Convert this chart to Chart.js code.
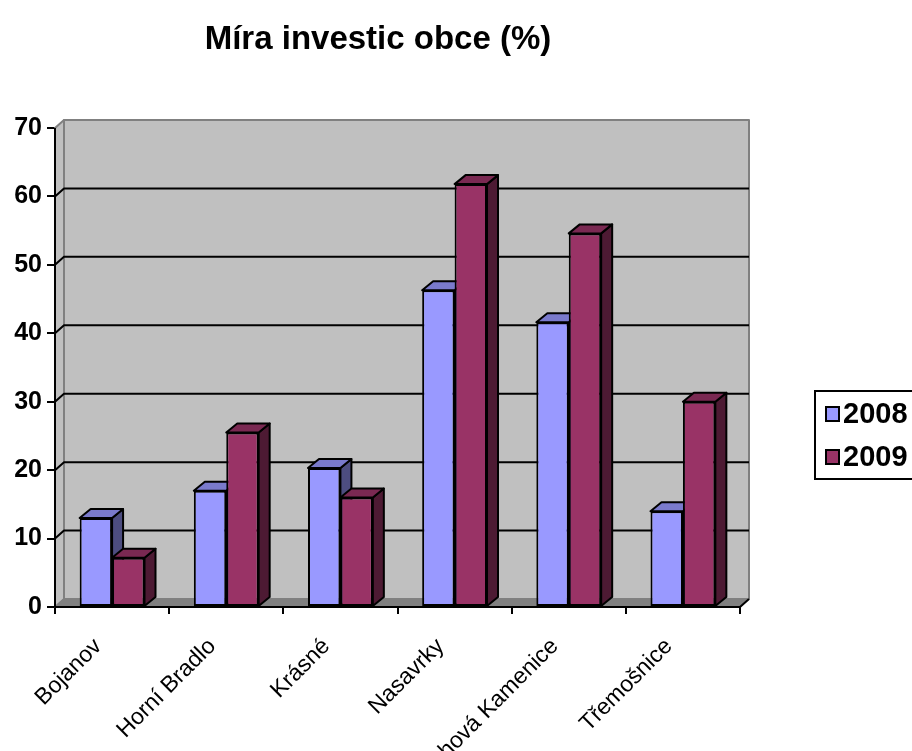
<!DOCTYPE html>
<html>
<head>
<meta charset="utf-8">
<script src="https://cdn.jsdelivr.net/npm/chart.js@4.4.1/dist/chart.umd.min.js"></script>
<style>
  html, body { margin: 0; padding: 0; background: #fff; }
</style>
</head>
<body>
<canvas id="chart" width="912" height="751"></canvas>
<script>
// Data
const categories = ["Bojanov", "Horní Bradlo", "Krásné", "Nasavrky", "Trhová Kamenice", "Třemošnice"];
const values2008 = [13, 17, 20.3, 46.3, 41.6, 14];
const values2009 = [7.2, 25.5, 16, 61.8, 54.6, 30];
const yTicks = [0, 10, 20, 30, 40, 50, 60, 70];
const seriesNames = ["2008", "2009"];
const titleText = "Míra investic obce (%)";

// Barvy (čelo, vršek, bok)
const frontColors = ["#9999FF", "#993366"];
const topColors = ["#7A7ACC", "#7A2952"];
const sideColors = ["#4D4D80", "#4D1A33"];

const FONT = "'Liberation Sans', Arial, sans-serif";
const WALL_DX = 9, WALL_DY = 8; // hloubka stěn
const BAR_DX = 11, BAR_DY = 9; // hloubka sloupců

function poly(ctx, pts, fill, stroke, lw) {
  ctx.beginPath();
  ctx.moveTo(pts[0][0], pts[0][1]);
  for (let i = 1; i < pts.length; i++) ctx.lineTo(pts[i][0], pts[i][1]);
  ctx.closePath();
  if (fill) { ctx.fillStyle = fill; ctx.fill(); }
  if (stroke) { ctx.strokeStyle = stroke; ctx.lineWidth = lw; ctx.stroke(); }
}

// 3D stěny, mřížka a boky sloupců
const plot3d = {
  id: "plot3d",
  beforeDatasetsDraw(chart) {
    const { ctx, chartArea: a, scales: { y } } = chart;
    ctx.save();
    ctx.lineJoin = "round";
    // zadní stěna
    poly(ctx, [[a.left + WALL_DX, a.top - WALL_DY], [a.right + WALL_DX, a.top - WALL_DY],
      [a.right + WALL_DX, a.bottom - WALL_DY], [a.left + WALL_DX, a.bottom - WALL_DY]], "#C0C0C0", "#808080", 2);
    // boční stěna
    poly(ctx, [[a.left, a.top], [a.left + WALL_DX, a.top - WALL_DY],
      [a.left + WALL_DX, a.bottom - WALL_DY], [a.left, a.bottom]], "#C0C0C0", "#808080", 2);
    // mřížka
    const yMax = yTicks[yTicks.length - 1];
    yTicks.forEach((v) => {
      if (v === 0 || v === yMax) return;
      const py = y.getPixelForValue(v);
      ctx.beginPath();
      ctx.moveTo(a.left, py);
      ctx.lineTo(a.left + WALL_DX, py - WALL_DY);
      ctx.lineTo(a.right + WALL_DX, py - WALL_DY);
      ctx.strokeStyle = "#000";
      ctx.lineWidth = 2;
      ctx.stroke();
    });
    // podlaha
    poly(ctx, [[a.left, a.bottom], [a.left + WALL_DX, a.bottom - WALL_DY],
      [a.right + WALL_DX, a.bottom - WALL_DY], [a.right, a.bottom]], "#808080", "#808080", 1);
    // osy
    ctx.beginPath();
    ctx.moveTo(a.left, a.top);
    ctx.lineTo(a.left, a.bottom);
    ctx.lineTo(a.right, a.bottom);
    ctx.lineTo(a.right + WALL_DX, a.bottom - WALL_DY);
    ctx.strokeStyle = "#000";
    ctx.lineWidth = 2;
    ctx.stroke();
    // boky a vršky sloupců
    chart.data.datasets.forEach((ds, i) => {
      const meta = chart.getDatasetMeta(i);
      meta.data.forEach((bar) => {
        const p = bar.getProps(["x", "y", "base", "width"], true);
        const l = p.x - p.width / 2, r = p.x + p.width / 2;
        poly(ctx, [[r, p.y], [r + BAR_DX, p.y - BAR_DY], [r + BAR_DX, p.base - BAR_DY], [r, p.base]], sideColors[i], "#000", 2);
        poly(ctx, [[l, p.y], [l + BAR_DX, p.y - BAR_DY], [r + BAR_DX, p.y - BAR_DY], [r, p.y]], topColors[i], "#000", 2);
      });
    });
    ctx.restore();
  },
  afterDraw(chart) {
    const ctx = chart.ctx;
    ctx.save();
    // nadpis
    ctx.fillStyle = "#000";
    ctx.font = "bold 33px " + FONT;
    ctx.textAlign = "center";
    ctx.textBaseline = "alphabetic";
    ctx.fillText(titleText, 378, 49);
    // legenda
    ctx.lineWidth = 2;
    ctx.strokeStyle = "#000";
    ctx.strokeRect(815, 391, 130, 88);
    ctx.font = "bold 29px " + FONT;
    ctx.textAlign = "left";
    ctx.textBaseline = "middle";
    const rows = [414, 457];
    seriesNames.forEach((name, i) => {
      ctx.fillStyle = frontColors[i];
      ctx.fillRect(826, rows[i] - 7, 13, 14);
      ctx.strokeRect(826, rows[i] - 7, 13, 14);
      ctx.fillStyle = "#000";
      ctx.fillText(name, 843, rows[i] + 1);
    });
    ctx.restore();
  },
};

const ctx = document.getElementById("chart").getContext("2d");
const chart = new Chart(ctx, {
  type: "bar",
  data: {
    labels: categories,
    datasets: seriesNames.map((name, i) => ({
      label: name,
      data: i === 0 ? values2008 : values2009,
      backgroundColor: frontColors[i],
      borderColor: "#000",
      borderWidth: 2,
      borderSkipped: false,
      categoryPercentage: 0.568,
      barPercentage: 1,
    })),
  },
  options: {
    responsive: false,
    animation: false,
    layout: { padding: { top: 128, right: 172, bottom: 0, left: 0 } },
    plugins: {
      legend: { display: false },
      title: { display: false },
      tooltip: { enabled: false },
    },
    scales: {
      x: {
        grid: { offset: true, drawOnChartArea: false, tickLength: 7, color: "#000", lineWidth: 2 },
        border: { display: false },
        ticks: { color: "#000", font: { family: FONT, size: 23 }, minRotation: 45, maxRotation: 45, padding: 19, labelOffset: -14 },
        afterFit(s) { s.height = 144; },
      },
      y: {
        min: 0,
        max: 70,
        grid: { drawOnChartArea: false, tickLength: 8, color: "#000", lineWidth: 2 },
        border: { display: false },
        ticks: { stepSize: 10, color: "#000", font: { family: FONT, size: 25, weight: "bold" }, padding: 5 },
        afterFit(s) { s.width = 55; },
      },
    },
  },
  plugins: [plot3d],
});
</script>
</body>
</html>
